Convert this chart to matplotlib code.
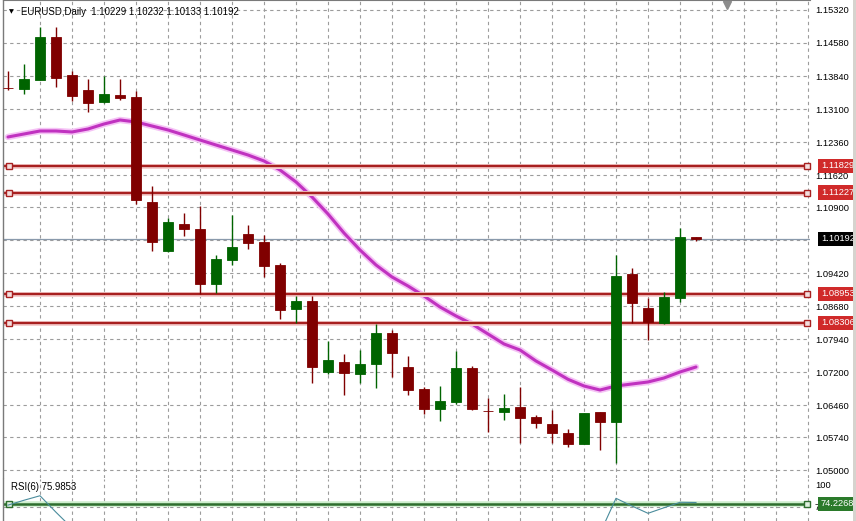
import matplotlib
matplotlib.use("Agg")
import matplotlib.pyplot as plt
from matplotlib.patches import Rectangle

plt.rcParams['font.family'] = ['Liberation Sans', 'DejaVu Sans']

W, H = 856, 521

# ---------------- data ----------------
bar_index = list(range(44))
opens = [1.13575, 1.13549, 1.13751, 1.14715, 1.13863, 1.13526, 1.13257, 1.13414, 1.13369, 1.11015,
         1.09917, 1.10522, 1.10410, 1.09177, 1.09715, 1.10298, 1.10119, 1.09603, 1.08616, 1.08796,
         1.07204, 1.07428, 1.07159, 1.07383, 1.08078, 1.07316, 1.06823, 1.06374, 1.06531, 1.07294,
         1.06335, 1.06307, 1.06419, 1.06195, 1.06038, 1.05836, 1.05590, 1.06307, 1.06083, 1.09401,
         1.08639, 1.08303, 1.08863, 1.10229]
highs = [1.13952, 1.14109, 1.14939, 1.14939, 1.13952, 1.13773, 1.13840, 1.13773, 1.13504, 1.11374,
         1.10657, 1.10769, 1.10926, 1.09827, 1.10724, 1.10500, 1.10276, 1.09648, 1.08908, 1.08908,
         1.07899, 1.07608, 1.07697, 1.08280, 1.08146, 1.07563, 1.06868, 1.06890, 1.07675, 1.07339,
         1.06621, 1.06711, 1.06868, 1.06240, 1.06352, 1.05926, 1.06290, 1.06310, 1.09827, 1.09536,
         1.08863, 1.08998, 1.10432, 1.10232]
lows = [1.13526, 1.13437, 1.13740, 1.13594, 1.13280, 1.13033, 1.13235, 1.13302, 1.10970, 1.09917,
        1.09894, 1.10253, 1.08953, 1.08975, 1.09603, 1.09962, 1.09334, 1.08392, 1.08303, 1.06957,
        1.07159, 1.06688, 1.06957, 1.06845, 1.07092, 1.06688, 1.06262, 1.06105, 1.06487, 1.06352,
        1.05859, 1.06128, 1.05612, 1.05948, 1.05612, 1.05522, 1.05585, 1.05455, 1.05164, 1.08303,
        1.07921, 1.08290, 1.08773, 1.10133]
closes = [1.13567, 1.13773, 1.14715, 1.13795, 1.13392, 1.13235, 1.13437, 1.13347, 1.11060, 1.10119,
          1.10567, 1.10410, 1.09177, 1.09737, 1.10006, 1.10096, 1.09581, 1.08594, 1.08796, 1.07316,
          1.07473, 1.07182, 1.07383, 1.08078, 1.07630, 1.06800, 1.06374, 1.06554, 1.07294, 1.06374,
          1.06325, 1.06397, 1.06173, 1.06061, 1.05836, 1.05590, 1.06285, 1.06083, 1.09356, 1.08751,
          1.08325, 1.08885, 1.10231, 1.10192]
ma_values = [1.12473, 1.12540, 1.12607, 1.12607, 1.12585, 1.12652, 1.12764, 1.12854, 1.12809, 1.12719,
             1.12630, 1.12518, 1.12405, 1.12293, 1.12181, 1.12069, 1.11935, 1.11733, 1.11464, 1.11128,
             1.10746, 1.10320, 1.09939, 1.09603, 1.09334, 1.09132, 1.08908, 1.08661, 1.08460, 1.08280,
             1.08056, 1.07832, 1.07697, 1.07450, 1.07249, 1.07040, 1.06890, 1.06800, 1.06890, 1.06935,
             1.06980, 1.07069, 1.07204, 1.07316]
rsi_values = [72.5, 79.0, 85.0, 63.0, 42.0, 40.0, 46.0, 44.0, 20.0, 16.0,
              26.0, 25.0, 17.0, 28.0, 34.0, 31.0, 25.0, 17.0, 22.0, 12.0,
              20.0, 18.0, 24.0, 40.0, 34.0, 27.0, 22.0, 26.0, 44.0, 32.0,
              31.0, 33.0, 29.0, 27.0, 24.0, 21.0, 36.0, 35.0, 81.6, 71.3,
              61.6, 69.0, 76.3, 75.9853]

levels = [1.11829, 1.11227, 1.08953, 1.08306]
current_price = 1.10192
rsi_level = 74.2268
price_ticks = [1.15320, 1.14580, 1.13840, 1.13100, 1.12360, 1.11620, 1.10900, 1.10160,
               1.09420, 1.08680, 1.07940, 1.07200, 1.06460, 1.05740, 1.05000]
# the 1.10160 label is hidden under the current-price box in the reference
price_tick_labels = ["1.15320", "1.14580", "1.13840", "1.13100", "1.12360", "1.11620", "1.10900", "",
                     "1.09420", "1.08680", "1.07940", "1.07200", "1.06460", "1.05740", "1.05000"]
rsi_ticks = [100, 70]
rsi_tick_labels = ["100", "70"]
title_text = "EURUSD,Daily  1.10229 1.10232 1.10133 1.10192"
rsi_text = "RSI(6) 75.9853"

# ---------------- style ----------------
GREEN = '#006400'
RED = '#800000'
GRID = '#9c9c9c'
DASH = (0, (3, 3))
FS = 6.7

fig = plt.figure(figsize=(W / 100, H / 100), dpi=100)
fig.patch.set_facecolor('white')


def px_axes(left, top, right, bottom):
    return fig.add_axes([left / W, 1 - bottom / H, (right - left) / W, (bottom - top) / H])


ax = px_axes(3, 0, 810, 478)
rs = px_axes(3, 479, 810, 521)

for a in (ax, rs):
    a.set_xlim(-0.3125, 50.125)
    a.set_facecolor('white')
    for s in ('right', 'bottom', 'top'):
        a.spines[s].set_visible(False)
    a.spines['left'].set_color('#7a7a7a')
    a.spines['left'].set_linewidth(1.0)
    a.set_xticks(range(2, 51, 2))
    a.tick_params(axis='x', length=0, labelbottom=False)
    a.tick_params(axis='y', length=0, left=False, labelleft=False, right=True,
                  labelright=True, pad=3.6, labelsize=FS, labelcolor='black')
    a.set_axisbelow(True)
    a.grid(True, axis='x', color=GRID, linestyle=DASH, linewidth=0.8)

ax.spines['top'].set_visible(True)
ax.spines['top'].set_color('#7a7a7a')

ax.set_ylim(1.04827, 1.15544)
ax.set_yticks(price_ticks)
ax.set_yticklabels(price_tick_labels)
ax.grid(True, axis='y', color=GRID, linestyle=DASH, linewidth=0.8)

# current price line
ax.axhline(current_price, color='#8a9aac', lw=0.9, zorder=1)

# moving average
ax.plot(bar_index, ma_values, color='#f5c2f5', lw=4.6, solid_capstyle='round', zorder=2)
ax.plot(bar_index, ma_values, color='#c032c0', lw=2.2, solid_capstyle='round', zorder=2.1)

# horizontal levels
ytr = ax.get_yaxis_transform()
for lv in levels:
    ax.axhline(lv, color='#f6d0d0', lw=3.6, zorder=2.2)
    ax.axhline(lv, color='#a82020', lw=1.7, zorder=2.3)
    ax.plot([0.0075, 0.9963], [lv, lv], transform=ytr, ls='none', marker='s', ms=4,
            mfc='#f3dede', mec='#a82020', mew=1.0, zorder=2.4, clip_on=False)

# candles
body_w = 0.66
for i, o, h, l, c in zip(bar_index, opens, highs, lows, closes):
    col = GREEN if c > o else RED
    ax.vlines(i, l, h, color=col, lw=1.0, zorder=3)
    ax.bar(i, abs(c - o), bottom=min(o, c), width=body_w, color=col,
           edgecolor=col, linewidth=0.6, zorder=3.1)

# right side labels
lab_x = 1 + 11 / 807
for lv in levels:
    ax.text(lab_x, lv, f"{lv:.5f}", transform=ytr, va='center', ha='left', fontsize=FS,
            color='white', zorder=10, clip_on=False,
            bbox=dict(boxstyle='square,pad=0.28', fc='#d02a2a', ec='none'))
ax.text(lab_x, current_price, f"{current_price:.5f}", transform=ytr, va='center', ha='left',
        fontsize=FS, color='white', zorder=10, clip_on=False,
        bbox=dict(boxstyle='square,pad=0.28', fc='black', ec='none'))

# title and shift marker
fig.text(21 / W, 1 - 12 / H, title_text, va='center', ha='left', fontsize=6.9, color='black')
fig.text(9 / W, 1 - 11.5 / H, '\u25BC', va='center', ha='left', fontsize=4.5, color='black',
         family=['DejaVu Sans'])
ax.plot([(727 - 3) / 807], [1 - 5 / 478], transform=ax.transAxes, marker='v', ms=6,
        color='#8c8c8c', ls='none', clip_on=False, zorder=5)

# ---------------- RSI ----------------
rs.set_ylim(51.33, 107.33)
rs.set_yticks(rsi_ticks)
rs.set_yticklabels(rsi_tick_labels)
rs.axhline(70, color=GRID, linestyle=DASH, linewidth=0.8, zorder=0.6)
rs.axhline(rsi_level, color='#cdeecd', lw=4.0, zorder=2)
rs.axhline(rsi_level, color='#2e6e2e', lw=1.8, zorder=2.1)
rytr = rs.get_yaxis_transform()
rs.plot([0.0075, 0.9963], [rsi_level, rsi_level], transform=rytr, ls='none', marker='s', ms=4,
        mfc='#dff0df', mec='#2e6e2e', mew=1.0, zorder=2.4, clip_on=False)
rs.plot(bar_index, rsi_values, color='#4a8c9c', lw=0.8, zorder=3)
rs.text(lab_x, rsi_level, f"{rsi_level:.4f}", transform=rytr, va='center', ha='left', fontsize=FS,
        color='white', zorder=10, clip_on=False,
        bbox=dict(boxstyle='square,pad=0.28', fc='#2a7a2a', ec='none'))
fig.text(11 / W, 1 - 487 / H, rsi_text, va='center', ha='left', fontsize=6.9, color='black')

# right border strip
fig.patches.append(Rectangle((853 / W, 0), 3 / W, 1, transform=fig.transFigure,
                             facecolor='#d6d3ce', edgecolor='none', zorder=20))

fig.savefig('out.png', dpi=100, facecolor='white')
